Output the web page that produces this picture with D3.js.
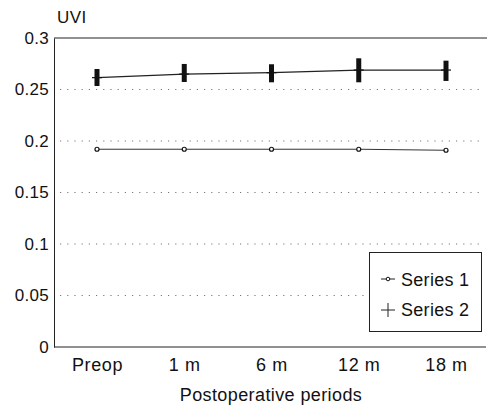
<!DOCTYPE html>
<html><head><meta charset="utf-8">
<script src="https://cdn.jsdelivr.net/npm/d3@7"></script>
<style>body{margin:0;background:#fff}svg{display:block;font-family:"Liberation Sans",Arial,sans-serif}</style>
</head><body><div id="chart"></div>
<script>
const categories = ["Preop","1 m","6 m","12 m","18 m"];
const series1 = [0.192,0.192,0.192,0.192,0.191];
const series2 = [0.2615,0.265,0.2663,0.2689,0.2689];
const series2Low = [0.2534,0.2573,0.257,0.257,0.2583];
const series2High = [0.2699,0.2748,0.2745,0.2803,0.278];
const yTicks = [0,0.05,0.1,0.15,0.2,0.25,0.3];
const yTickLabels = ["0","0.05","0.1","0.15","0.2","0.25","0.3"];
const seriesNames = ["Series 1","Series 2"];

const W=487,H=407;
const svg=d3.select("#chart").append("svg").attr("width",W).attr("height",H);
const x=d3.scalePoint().domain(categories).range([97,446]);
const y=d3.scaleLinear().domain([0,0.3]).range([347,38]);
const L=54, R=486;
const ink="#222";
const FF="Liberation Sans, Arial, sans-serif";

// gridlines
svg.append("g").selectAll("line").data(yTicks.filter(v=>v>0&&v<0.3)).join("line")
  .attr("x1",L+6).attr("x2",484).attr("y1",d=>y(d)).attr("y2",d=>y(d))
  .attr("stroke","#777").attr("stroke-width",1).attr("stroke-dasharray","1.2,6");

// axes
const yAxis=d3.axisLeft(y).tickValues(yTicks).tickFormat((d,i)=>yTickLabels[i]).tickSize(0).tickPadding(5);
const gy=svg.append("g").attr("transform",`translate(${L},0)`).call(yAxis);
gy.select(".domain").attr("stroke",ink);
gy.selectAll("text").attr("font-size",17).attr("fill","#111").attr("font-family",FF).attr("letter-spacing",0.3);
const xAxis=d3.axisBottom(x).tickSize(0).tickPadding(11);
const gx=svg.append("g").attr("transform",`translate(0,${y(0)})`).call(xAxis);
gx.select(".domain").attr("d",`M${L},0H${R}`).attr("stroke",ink);
gx.selectAll("text").attr("font-size",18).attr("fill","#111").attr("font-family",FF).attr("letter-spacing",0.6);
// top border
svg.append("line").attr("x1",L).attr("x2",R+1).attr("y1",y(0.3)).attr("y2",y(0.3)).attr("stroke",ink);

// titles
svg.append("text").attr("x",57).attr("y",23).attr("font-size",17).attr("fill","#111").attr("letter-spacing",0.5).text("UVI");
svg.append("text").attr("x",271).attr("y",401).attr("text-anchor","middle").attr("font-size",18).attr("fill","#111").attr("letter-spacing",0.4).text("Postoperative periods");

// series 1
const line=d3.line().x((d,i)=>x(categories[i])).y(d=>y(d));
svg.append("path").attr("d",line(series1)).attr("fill","none").attr("stroke","#333").attr("stroke-width",1);
svg.append("g").selectAll("circle").data(series1).join("circle")
  .attr("cx",(d,i)=>x(categories[i])).attr("cy",d=>y(d)).attr("r",2)
  .attr("fill","#fff").attr("stroke","#111").attr("stroke-width",1.2);

// series 2
svg.append("path").attr("d",line(series2)).attr("fill","none").attr("stroke","#222").attr("stroke-width",1.2);
svg.append("g").selectAll("rect").data(series2).join("rect")
  .attr("x",(d,i)=>x(categories[i])-2.5).attr("width",5)
  .attr("y",(d,i)=>y(series2High[i])).attr("height",(d,i)=>y(series2Low[i])-y(series2High[i]))
  .attr("fill","#111");
svg.append("g").selectAll("line").data(series2).join("line")
  .attr("x1",(d,i)=>x(categories[i])-5).attr("x2",(d,i)=>x(categories[i])+5)
  .attr("y1",d=>y(d)).attr("y2",d=>y(d)).attr("stroke","#111").attr("stroke-width",1.2);

// legend
const lg=svg.append("g");
lg.append("rect").attr("x",369.5).attr("y",252.5).attr("width",112).attr("height",79)
  .attr("fill","#fff").attr("stroke",ink).attr("stroke-width",1);
const ly=[280,310];
seriesNames.forEach((n,i)=>{
  lg.append("line").attr("x1",381).attr("x2",395).attr("y1",ly[i]-(i?0:1)).attr("y2",ly[i]-(i?0:1)).attr("stroke","#222");
  if(i===0){
    lg.append("circle").attr("cx",388).attr("cy",ly[i]-1).attr("r",1.8).attr("fill","#fff").attr("stroke","#111");
  } else {
    lg.append("line").attr("x1",388).attr("x2",388).attr("y1",ly[i]-7).attr("y2",ly[i]+7).attr("stroke","#222");
  }
  lg.append("text").attr("x",401).attr("y",ly[i]+6).attr("font-size",18).attr("fill","#111").attr("letter-spacing",0.3).text(n);
});
</script></body></html>
